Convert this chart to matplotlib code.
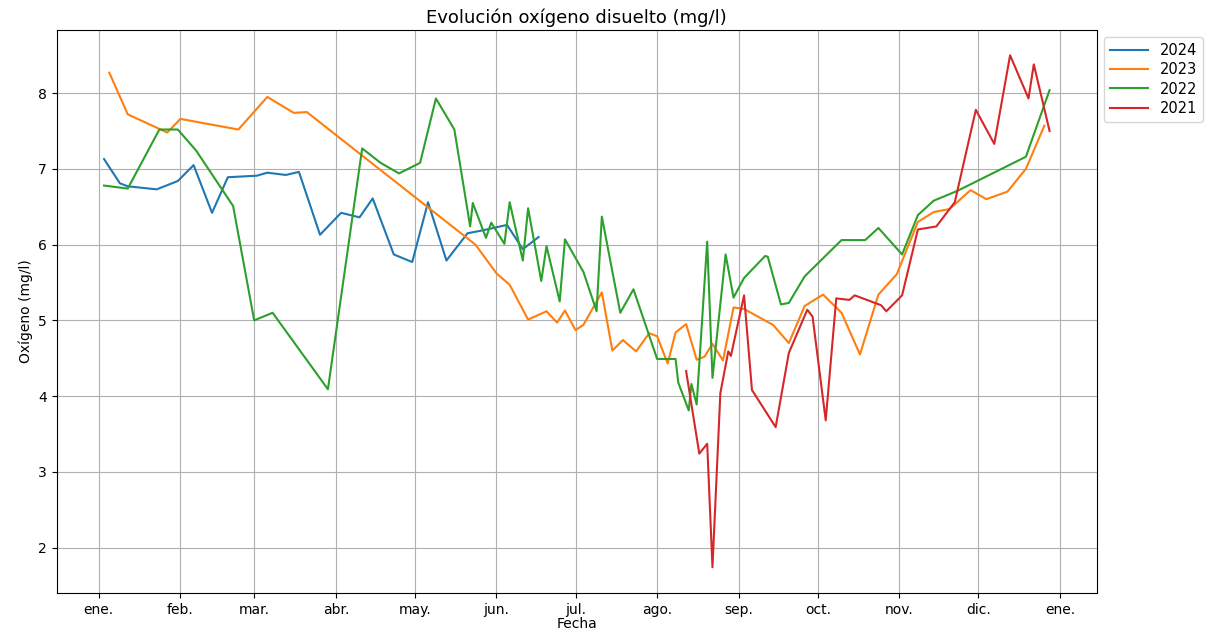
import matplotlib
matplotlib.use("Agg")
import matplotlib.pyplot as plt
import matplotlib.dates as mdates
import pandas as pd

# fechas (mes-día) y oxígeno disuelto (mg/l) por año
fechas_2024 = ["01-03", "01-09", "01-12", "01-23", "01-31", "02-06", "02-13", "02-19",
               "03-02", "03-06", "03-13", "03-18", "03-26", "04-03", "04-10", "04-15",
               "04-23", "04-30", "05-06", "05-13", "05-21", "05-27", "06-05", "06-11", "06-17"]
oxigeno_2024 = [7.13, 6.81, 6.77, 6.73, 6.84, 7.05, 6.42, 6.89,
                6.91, 6.95, 6.92, 6.96, 6.13, 6.42, 6.36, 6.61,
                5.87, 5.77, 6.56, 5.79, 6.15, 6.19, 6.26, 5.94, 6.10]

fechas_2023 = ["01-05", "01-12", "01-27", "02-01", "02-23", "03-06", "03-16", "03-21",
               "05-24", "06-01", "06-06", "06-13", "06-20", "06-24", "06-27", "07-01",
               "07-04", "07-11", "07-15", "07-19", "07-24", "07-29", "08-01", "08-05",
               "08-08", "08-12", "08-16", "08-19", "08-22", "08-26", "08-30", "09-03",
               "09-14", "09-20", "09-26", "10-03", "10-10", "10-17", "10-24", "10-31",
               "11-08", "11-14", "11-20", "11-28", "12-04", "12-12", "12-19", "12-26"]
oxigeno_2023 = [8.27, 7.72, 7.48, 7.66, 7.52, 7.95, 7.74, 7.75,
                6.00, 5.62, 5.47, 5.01, 5.12, 4.97, 5.13, 4.87,
                4.94, 5.37, 4.60, 4.74, 4.59, 4.83, 4.79, 4.43,
                4.84, 4.95, 4.48, 4.52, 4.69, 4.47, 5.17, 5.15,
                4.94, 4.70, 5.19, 5.34, 5.10, 4.55, 5.34, 5.61,
                6.30, 6.43, 6.47, 6.72, 6.60, 6.70, 7.00, 7.57]

fechas_2022 = ["01-03", "01-12", "01-24", "01-31", "02-07", "02-21", "03-01", "03-08",
               "03-29", "04-11", "04-18", "04-25", "05-03", "05-09", "05-16", "05-22",
               "05-23", "05-28", "05-30", "06-04", "06-06", "06-11", "06-13", "06-18",
               "06-20", "06-25", "06-27", "07-04", "07-09", "07-11", "07-18", "07-23",
               "08-01", "08-08", "08-09", "08-13", "08-14", "08-16", "08-20", "08-22",
               "08-27", "08-30", "09-03", "09-11", "09-12", "09-17", "09-20", "09-26",
               "10-10", "10-19", "10-24", "11-02", "11-08", "11-14", "11-23", "12-19", "12-28"]
oxigeno_2022 = [6.78, 6.74, 7.52, 7.52, 7.24, 6.51, 5.00, 5.10,
                4.09, 7.27, 7.08, 6.94, 7.08, 7.93, 7.52, 6.24,
                6.55, 6.09, 6.29, 6.01, 6.56, 5.79, 6.48, 5.52,
                5.98, 5.25, 6.07, 5.64, 5.12, 6.37, 5.10, 5.41,
                4.49, 4.49, 4.18, 3.81, 4.16, 3.89, 6.04, 4.24,
                5.87, 5.30, 5.56, 5.85, 5.84, 5.21, 5.23, 5.58,
                6.06, 6.06, 6.22, 5.87, 6.39, 6.58, 6.71, 7.16, 8.04]

fechas_2021 = ["08-12", "08-17", "08-20", "08-22", "08-25", "08-28", "08-29", "09-03",
               "09-06", "09-15", "09-20", "09-27", "09-29", "10-04", "10-08", "10-13",
               "10-15", "10-25", "10-27", "11-02", "11-08", "11-15", "11-22", "11-30",
               "12-07", "12-13", "12-20", "12-22", "12-28"]
oxigeno_2021 = [4.33, 3.24, 3.37, 1.74, 4.04, 4.59, 4.53, 5.33,
                4.08, 3.59, 4.57, 5.14, 5.05, 3.68, 5.29, 5.27,
                5.33, 5.20, 5.12, 5.33, 6.20, 6.24, 6.56, 7.78,
                7.33, 8.50, 7.93, 8.38, 7.50]

meses = ["ene.", "feb.", "mar.", "abr.", "may.", "jun.",
         "jul.", "ago.", "sep.", "oct.", "nov.", "dic."]

series = [("2024", fechas_2024, oxigeno_2024),
          ("2023", fechas_2023, oxigeno_2023),
          ("2022", fechas_2022, oxigeno_2022),
          ("2021", fechas_2021, oxigeno_2021)]

fig, ax = plt.subplots(figsize=(12.08, 6.32), dpi=100)
fig.subplots_adjust(left=0.047, right=0.908, bottom=0.062, top=0.953)

# todas las series sobre un mismo año base para comparar
for anio, fechas, valores in series:
    x = pd.to_datetime(["2023-" + f for f in fechas])
    ax.plot(x, valores, label=anio)

ax.xaxis.set_major_locator(mdates.MonthLocator())
ax.xaxis.set_major_formatter(plt.FuncFormatter(
    lambda v, pos: meses[mdates.num2date(v).month - 1]))

ax.set_title("Evolución oxígeno disuelto (mg/l)", fontsize=13, pad=5)
ax.set_xlabel("Fecha", labelpad=0)
ax.set_ylabel("Oxígeno (mg/l)")
ax.grid(True)
ax.legend(loc="upper left", bbox_to_anchor=(1.0, 1.0), fontsize=10.5,
          handlelength=2.6, labelspacing=0.3)

plt.savefig("out.png")
plt.close()
